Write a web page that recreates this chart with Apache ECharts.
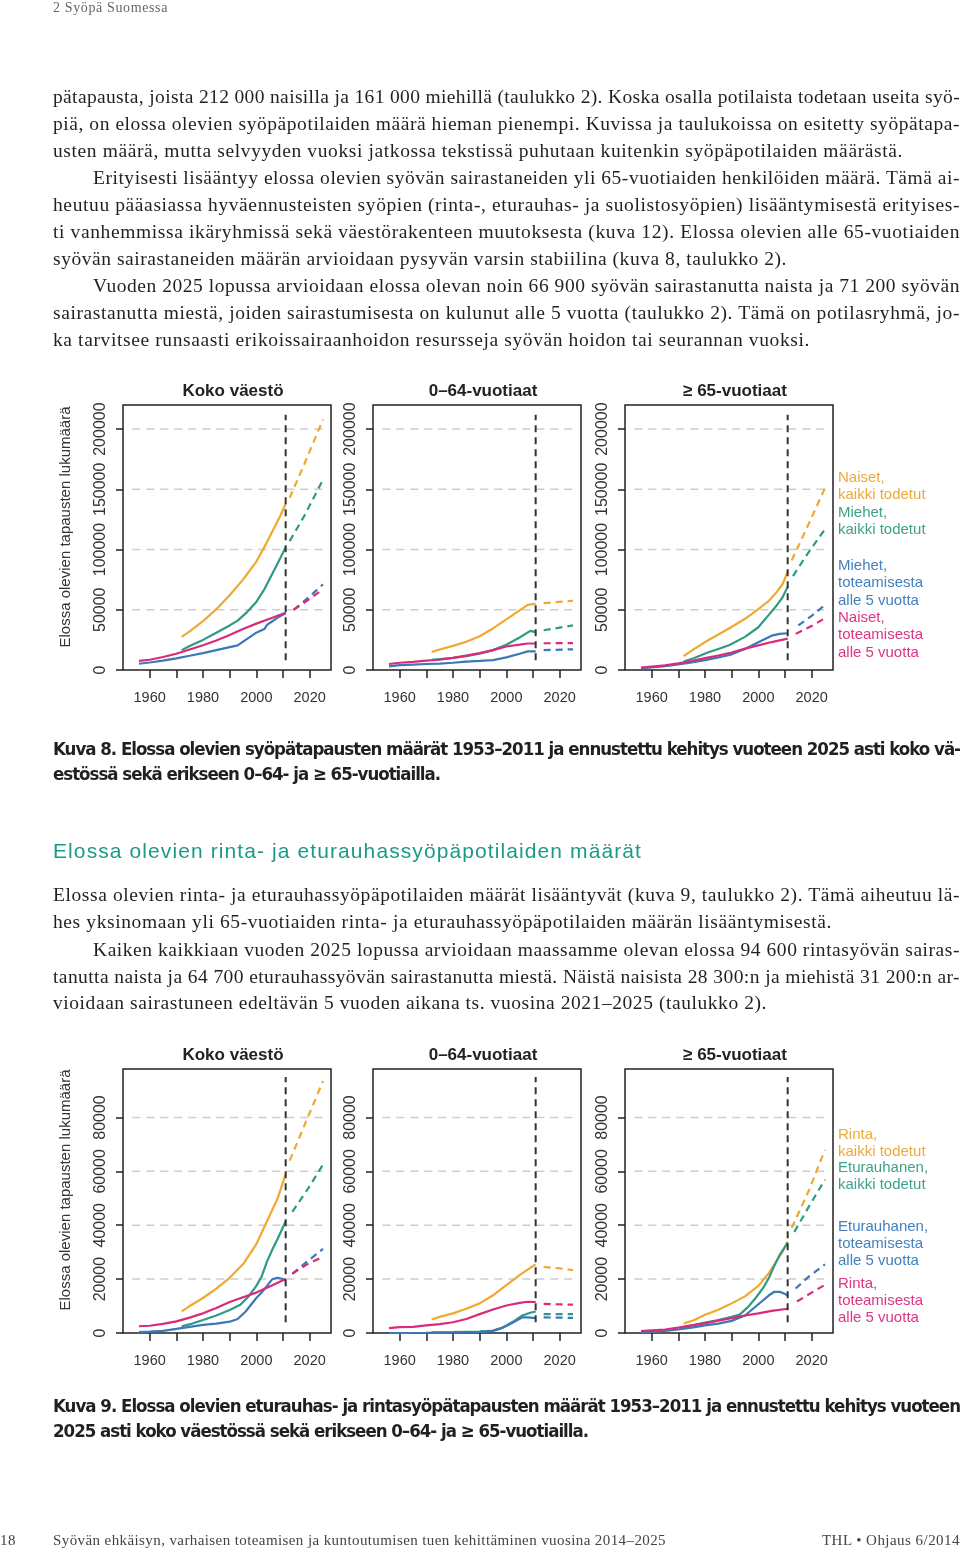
<!DOCTYPE html>
<html lang="fi"><head><meta charset="utf-8"><title>Kuvat 8 ja 9</title>
<script src="https://cdn.jsdelivr.net/npm/echarts@6.0.0/dist/echarts.min.js"></script>
<style>
html,body{margin:0;padding:0;background:#fff}
body{width:960px;height:1551px;position:relative;overflow:hidden}
#chart{position:absolute;left:0;top:0;width:960px;height:1551px;z-index:1}
.ln{position:absolute;white-space:nowrap;line-height:22px;height:22px;z-index:2}
.body{font-family:'Liberation Serif','DejaVu Serif',serif;font-size:19.5px;color:#231f20}
.cap{font-family:'Liberation Sans Narrow','DejaVu Sans Condensed',sans-serif;font-weight:bold;font-size:18.5px;color:#231f20}
.head{font-family:'Liberation Sans',sans-serif;font-size:21px;color:#1d9a86}
.foot{font-family:'Liberation Serif',serif;font-size:15px;color:#444}
</style></head><body>
<div id="chart"></div>

<div class="ln foot" data-x="53" data-y="8" data-r="168" style="color:#666;font-size:14px">2 Syöpä Suomessa</div>

<div class="ln body" data-x="53" data-y="97" data-r="960">pätapausta, joista 212 000 naisilla ja 161 000 miehillä (taulukko 2). Koska osalla potilaista todetaan useita syö-</div>
<div class="ln body" data-x="53" data-y="124" data-r="960">piä, on elossa olevien syöpäpotilaiden määrä hieman pienempi. Kuvissa ja taulukoissa on esitetty syöpätapa-</div>
<div class="ln body" data-x="53" data-y="151" data-r="903">usten määrä, mutta selvyyden vuoksi jatkossa tekstissä puhutaan kuitenkin syöpäpotilaiden määrästä.</div>
<div class="ln body" data-x="93" data-y="178" data-r="960">Erityisesti lisääntyy elossa olevien syövän sairastaneiden yli 65-vuotiaiden henkilöiden määrä. Tämä ai-</div>
<div class="ln body" data-x="53" data-y="205" data-r="960">heutuu pääasiassa hyväennusteisten syöpien (rinta-, eturauhas- ja suolistosyöpien) lisääntymisestä erityises-</div>
<div class="ln body" data-x="53" data-y="232" data-r="960">ti vanhemmissa ikäryhmissä sekä väestörakenteen muutoksesta (kuva 12). Elossa olevien alle 65-vuotiaiden</div>
<div class="ln body" data-x="53" data-y="259" data-r="787">syövän sairastaneiden määrän arvioidaan pysyvän varsin stabiilina (kuva 8, taulukko 2).</div>
<div class="ln body" data-x="93" data-y="286" data-r="960">Vuoden 2025 lopussa arvioidaan elossa olevan noin 66 900 syövän sairastanutta naista ja 71 200 syövän</div>
<div class="ln body" data-x="53" data-y="313" data-r="960">sairastanutta miestä, joiden sairastumisesta on kulunut alle 5 vuotta (taulukko 2). Tämä on potilasryhmä, jo-</div>
<div class="ln body" data-x="53" data-y="340" data-r="810">ka tarvitsee runsaasti erikoissairaanhoidon resursseja syövän hoidon tai seurannan vuoksi.</div>

<div class="ln cap" data-x="53" data-y="749" data-r="960">Kuva 8. Elossa olevien syöpätapausten määrät 1953–2011 ja ennustettu kehitys vuoteen 2025 asti koko vä-</div>
<div class="ln cap" data-x="53" data-y="774" data-r="440">estössä sekä erikseen 0–64- ja ≥ 65-vuotiailla.</div>

<div class="ln head" data-x="53" data-y="851" data-r="642">Elossa olevien rinta- ja eturauhassyöpäpotilaiden määrät</div>

<div class="ln body" data-x="53" data-y="895" data-r="960">Elossa olevien rinta- ja eturauhassyöpäpotilaiden määrät lisääntyvät (kuva 9, taulukko 2). Tämä aiheutuu lä-</div>
<div class="ln body" data-x="53" data-y="922" data-r="832">hes yksinomaan yli 65-vuotiaiden rinta- ja eturauhassyöpäpotilaiden määrän lisääntymisestä.</div>
<div class="ln body" data-x="93" data-y="950" data-r="960">Kaiken kaikkiaan vuoden 2025 lopussa arvioidaan maassamme olevan elossa 94 600 rintasyövän sairas-</div>
<div class="ln body" data-x="53" data-y="977" data-r="960">tanutta naista ja 64 700 eturauhassyövän sairastanutta miestä. Näistä naisista 28 300:n ja miehistä 31 200:n ar-</div>
<div class="ln body" data-x="53" data-y="1003" data-r="767">vioidaan sairastuneen edeltävän 5 vuoden aikana ts. vuosina 2021–2025 (taulukko 2).</div>

<div class="ln cap" data-x="53" data-y="1406" data-r="960">Kuva 9. Elossa olevien eturauhas- ja rintasyöpätapausten määrät 1953–2011 ja ennustettu kehitys vuoteen</div>
<div class="ln cap" data-x="53" data-y="1431" data-r="588">2025 asti koko väestössä sekä erikseen 0–64- ja ≥ 65-vuotiailla.</div>

<div class="ln foot" data-x="0" data-y="1540" data-r="16">18</div>
<div class="ln foot" data-x="53" data-y="1540" data-r="666">Syövän ehkäisyn, varhaisen toteamisen ja kuntoutumisen tuen kehittäminen vuosina 2014–2025</div>
<div class="ln foot" data-x="822" data-y="1540" data-r="960">THL • Ohjaus 6/2014</div>

<script>
// ---------- axis / label data ----------
const X_TICKS = [1960, 1970, 1980, 1990, 2000, 2010, 2020];
const X_LABELS = [1960, 1980, 2000, 2020];
const X_MIN = 1950, X_MAX = 2028;
const F8_Y_TICKS = [0, 50000, 100000, 150000, 200000];
const F9_Y_TICKS = [0, 20000, 40000, 60000, 80000];
const F8_Y_MAX = 220000;
const F9_Y_MAX = 98000;
const PANEL_TITLES = ['Koko väestö', '0–64-vuotiaat', '≥ 65-vuotiaat'];
const Y_NAME = 'Elossa olevien tapausten lukumäärä';
const GRID_SPAN = [1953.5, 2025.5];
const CUT_YEAR = 2011;
const F8_CUT_RANGE = [8000, 212000];
const F9_CUT_RANGE = [4000, 95000];
const F8_LEGEND = [['Naiset,', 'kaikki todetut'], ['Miehet,', 'kaikki todetut'], ['Miehet,', 'toteamisesta', 'alle 5 vuotta'], ['Naiset,', 'toteamisesta', 'alle 5 vuotta']];
const F9_LEGEND = [['Rinta,', 'kaikki todetut'], ['Eturauhanen,', 'kaikki todetut'], ['Eturauhanen,', 'toteamisesta', 'alle 5 vuotta'], ['Rinta,', 'toteamisesta', 'alle 5 vuotta']];

// ---------- Kuva 8: Koko väestö ----------
const f8Koko_naisetKaikki = [[1972,27500],[1975,32000],[1980,40500],[1985,50500],[1990,62000],[1995,75000],[2000,90000],[2003,102000],[2006,115000],[2009,128000],[2011,138000]];
const f8Koko_naisetKaikki_enn = [[2012.5,143000],[2018,171000],[2025,208000]];
const f8Koko_miehetKaikki = [[1972,16500],[1975,20000],[1980,25000],[1985,31000],[1990,37000],[1993,41000],[1996,47000],[2000,56500],[2003,67000],[2006,80000],[2009,93000],[2011,102000]];
const f8Koko_miehetKaikki_enn = [[2012.5,107000],[2018,128000],[2025,158000]];
const f8Koko_miehet5 = [[1956,5200],[1960,6200],[1965,7800],[1970,9700],[1975,11800],[1980,14000],[1985,16500],[1990,19000],[1993,20500],[1996,25000],[2000,31000],[2003,34000],[2004,37500],[2006,40500],[2008,43500],[2011,47000]];
const f8Koko_miehet5_enn = [[2014,50000],[2020,61000],[2025,71200]];
const f8Koko_naiset5 = [[1956,7500],[1960,8500],[1965,10800],[1970,13500],[1975,17000],[1980,20500],[1985,24500],[1990,29000],[1995,34000],[2000,38500],[2005,42500],[2011,47500]];
const f8Koko_naiset5_enn = [[2014,50000],[2020,59000],[2025,66900]];

// ---------- Kuva 8: 0–64 ----------
const f8Nuor_naisetKaikki = [[1972,15000],[1975,17000],[1980,20000],[1985,23500],[1990,28000],[1995,34500],[2000,42000],[2005,49500],[2008,54000],[2011,55000]];
const f8Nuor_naisetKaikki_enn = [[2014,55500],[2025,57500]];
const f8Nuor_miehetKaikki = [[1972,8500],[1980,10000],[1985,11500],[1990,13500],[1995,16500],[2000,21000],[2005,27000],[2009,32500],[2011,31500]];
const f8Nuor_miehetKaikki_enn = [[2014,33000],[2025,37000]];
const f8Nuor_miehet5 = [[1956,3000],[1960,4000],[1965,4500],[1970,5000],[1975,5300],[1980,6000],[1985,7000],[1990,7500],[1995,8200],[2000,10500],[2005,13500],[2008,15500],[2011,15500]];
const f8Nuor_miehet5_enn = [[2014,16500],[2025,17200]];
const f8Nuor_naiset5 = [[1956,5000],[1960,6000],[1965,6800],[1970,7800],[1975,8500],[1980,10000],[1985,12000],[1990,14000],[1995,16500],[2000,19500],[2005,21000],[2008,22000],[2011,22000]];
const f8Nuor_naiset5_enn = [[2014,22200],[2025,22300]];

// ---------- Kuva 8: ≥ 65 ----------
const f8Vanh_naisetKaikki = [[1972,11500],[1976,17500],[1981,24500],[1985,29500],[1989,34500],[1995,42500],[2000,50500],[2004,57500],[2007,65000],[2009,71000],[2010,76000],[2011,82000]];
const f8Vanh_naisetKaikki_enn = [[2012.5,91000],[2018,117000],[2025,151000]];
const f8Vanh_miehetKaikki = [[1972,7000],[1976,10000],[1981,14500],[1985,17500],[1989,20500],[1995,27500],[2000,35500],[2004,46000],[2007,54000],[2009,60000],[2011,69000]];
const f8Vanh_miehetKaikki_enn = [[2013,78000],[2018,95000],[2025,117000]];
const f8Vanh_miehet5 = [[1956,1500],[1960,2200],[1965,3200],[1970,4700],[1975,6300],[1980,8200],[1985,10500],[1990,13000],[1995,17500],[2000,23000],[2005,28500],[2008,30000],[2011,30500]];
const f8Vanh_miehet5_enn = [[2015,37000],[2020,45000],[2025,54000]];
const f8Vanh_naiset5 = [[1956,2000],[1960,2800],[1965,3800],[1970,5500],[1975,7500],[1980,9800],[1985,12000],[1990,14500],[1995,17800],[2000,20500],[2005,23200],[2011,26000]];
const f8Vanh_naiset5_enn = [[2014,30000],[2020,36500],[2025,43000]];

// ---------- Kuva 9: Koko väestö ----------
const f9Koko_rintaKaikki = [[1972,8000],[1975,10000],[1980,13000],[1985,16500],[1990,20500],[1995,25500],[2000,33000],[2004,41500],[2008,50000],[2011,59000]];
const f9Koko_rintaKaikki_enn = [[2012.5,64000],[2018,77000],[2025,93500]];
const f9Koko_eturKaikki = [[1972,2500],[1976,3500],[1980,4800],[1985,6500],[1990,8500],[1994,10500],[1997,13500],[2000,17500],[2002,21000],[2004,26500],[2006,31000],[2008,35000],[2011,41500]];
const f9Koko_eturKaikki_enn = [[2013.5,45000],[2019,53000],[2025,62500]];
const f9Koko_etur5 = [[1956,300],[1960,500],[1965,800],[1970,1500],[1975,2300],[1980,3000],[1985,3500],[1990,4200],[1993,5200],[1996,8000],[1998,10500],[2000,13000],[2002,15000],[2004,17500],[2006,20000],[2008,20500],[2010,20000],[2011,19800]];
const f9Koko_etur5_enn = [[2013.5,22000],[2019,26500],[2025,31200]];
const f9Koko_rinta5 = [[1956,2500],[1960,2700],[1965,3400],[1970,4300],[1975,5700],[1980,7300],[1985,9300],[1990,11500],[1995,13300],[2000,15000],[2005,17300],[2011,20000]];
const f9Koko_rinta5_enn = [[2013.5,22000],[2019,25500],[2025,28300]];

// ---------- Kuva 9: 0–64 ----------
const f9Nuor_rintaKaikki = [[1972,5000],[1975,6000],[1980,7300],[1985,9000],[1990,11000],[1995,14000],[2000,17800],[2005,21500],[2008,23500],[2011,25500]];
const f9Nuor_rintaKaikki_enn = [[2014,24500],[2020,24000],[2025,23300]];
const f9Nuor_eturKaikki = [[1972,200],[1980,300],[1990,500],[1995,900],[1998,1800],[2000,2800],[2003,4500],[2006,6500],[2009,7500],[2011,8000]];
const f9Nuor_eturKaikki_enn = [[2014,7000],[2025,7000]];
const f9Nuor_etur5 = [[1956,0],[1970,100],[1980,200],[1990,400],[1995,800],[1998,1700],[2000,2600],[2003,4200],[2006,5800],[2008,5800],[2011,5500]];
const f9Nuor_etur5_enn = [[2014,5800],[2025,5600]];
const f9Nuor_rinta5 = [[1956,1800],[1960,2200],[1965,2300],[1970,2800],[1975,3300],[1980,4000],[1985,5200],[1990,7000],[1995,8700],[2000,10200],[2005,11200],[2008,11600],[2011,11500]];
const f9Nuor_rinta5_enn = [[2014,10800],[2025,10500]];

// ---------- Kuva 9: ≥ 65 ----------
const f9Vanh_rintaKaikki = [[1972,3500],[1976,4800],[1980,6800],[1985,8600],[1990,11000],[1995,13600],[2000,17500],[2004,22300],[2007,27000],[2009,30000],[2011,34000]];
const f9Vanh_rintaKaikki_enn = [[2012.5,39000],[2019,53000],[2025,68000]];
const f9Vanh_eturKaikki = [[1972,2200],[1976,3000],[1980,3900],[1985,4800],[1990,6000],[1993,6800],[1996,9500],[1999,13000],[2002,17000],[2004,20500],[2006,25000],[2008,29000],[2011,33500]];
const f9Vanh_eturKaikki_enn = [[2013.5,37500],[2019,47000],[2025,57000]];
const f9Vanh_etur5 = [[1956,200],[1960,400],[1965,800],[1970,1300],[1975,2000],[1980,2800],[1985,3500],[1990,4500],[1995,6500],[1998,9000],[2001,11500],[2004,14000],[2006,15300],[2008,15300],[2010,14500],[2011,14000]];
const f9Vanh_etur5_enn = [[2014,16500],[2019,21000],[2025,25500]];
const f9Vanh_rinta5 = [[1956,700],[1960,1000],[1965,1300],[1970,2000],[1975,2800],[1980,3600],[1985,4600],[1990,5500],[1995,6500],[2000,7300],[2005,8200],[2011,9000]];
const f9Vanh_rinta5_enn = [[2014.5,11700],[2020,15000],[2025,17900]];

// ---------- styling ----------
const COLORS = ['#F0A830', '#2E9A86', '#3A78B8', '#D92B7A'];
const LEGEND_COLORS = ['#EDAA3C', '#3FA08C', '#4480BE', '#DC3584'];
const SANS = "'Liberation Sans', Arial, sans-serif";

const FIGS = [
  { top: 405, height: 265, yMax: F8_Y_MAX, yTicks: F8_Y_TICKS, cut: F8_CUT_RANGE,
    titleY: 391, yNameY: 527, legend: F8_LEGEND, legendY: [478, 513, 566, 618], lineH: 17.3,
    panels: [
      [[f8Koko_naisetKaikki, f8Koko_naisetKaikki_enn], [f8Koko_miehetKaikki, f8Koko_miehetKaikki_enn], [f8Koko_miehet5, f8Koko_miehet5_enn], [f8Koko_naiset5, f8Koko_naiset5_enn]],
      [[f8Nuor_naisetKaikki, f8Nuor_naisetKaikki_enn], [f8Nuor_miehetKaikki, f8Nuor_miehetKaikki_enn], [f8Nuor_miehet5, f8Nuor_miehet5_enn], [f8Nuor_naiset5, f8Nuor_naiset5_enn]],
      [[f8Vanh_naisetKaikki, f8Vanh_naisetKaikki_enn], [f8Vanh_miehetKaikki, f8Vanh_miehetKaikki_enn], [f8Vanh_miehet5, f8Vanh_miehet5_enn], [f8Vanh_naiset5, f8Vanh_naiset5_enn]]
    ] },
  { top: 1069, height: 264, yMax: F9_Y_MAX, yTicks: F9_Y_TICKS, cut: F9_CUT_RANGE,
    titleY: 1055, yNameY: 1190, legend: F9_LEGEND, legendY: [1135, 1168, 1227, 1284], lineH: 16.8,
    panels: [
      [[f9Koko_rintaKaikki, f9Koko_rintaKaikki_enn], [f9Koko_eturKaikki, f9Koko_eturKaikki_enn], [f9Koko_etur5, f9Koko_etur5_enn], [f9Koko_rinta5, f9Koko_rinta5_enn]],
      [[f9Nuor_rintaKaikki, f9Nuor_rintaKaikki_enn], [f9Nuor_eturKaikki, f9Nuor_eturKaikki_enn], [f9Nuor_etur5, f9Nuor_etur5_enn], [f9Nuor_rinta5, f9Nuor_rinta5_enn]],
      [[f9Vanh_rintaKaikki, f9Vanh_rintaKaikki_enn], [f9Vanh_eturKaikki, f9Vanh_eturKaikki_enn], [f9Vanh_etur5, f9Vanh_etur5_enn], [f9Vanh_rinta5, f9Vanh_rinta5_enn]]
    ] }
];
const PANEL_LEFT = [123, 373, 625];
const PANEL_W = 208;

const grids = [], xAxes = [], yAxes = [], series = [], graphics = [];
FIGS.forEach((fig, fi) => {
  fig.panels.forEach((panel, pi) => {
    const gi = fi * 3 + pi;
    grids.push({ left: PANEL_LEFT[pi], top: fig.top, width: PANEL_W, height: fig.height,
      show: true, borderColor: '#222', borderWidth: 1.5, backgroundColor: 'transparent', containLabel: false });
    xAxes.push({ type: 'value', gridIndex: gi, min: X_MIN, max: X_MAX,
      axisLine: { show: false }, splitLine: { show: false },
      axisTick: { show: true, customValues: X_TICKS, length: 8, inside: false, lineStyle: { color: '#222', width: 1.5 } },
      axisLabel: { customValues: X_LABELS, formatter: v => String(v), fontSize: 14.5, fontFamily: SANS, color: '#333', margin: 20 } });
    yAxes.push({ type: 'value', gridIndex: gi, min: 0, max: fig.yMax,
      axisLine: { show: false }, splitLine: { show: false },
      axisTick: { show: true, customValues: fig.yTicks, length: 7, lineStyle: { color: '#222', width: 1.5 } },
      axisLabel: { customValues: fig.yTicks, formatter: v => String(v), rotate: 90, align: 'center', verticalAlign: 'bottom',
        margin: 14, fontSize: 16, fontFamily: SANS, color: '#333' } });
    // dashed grid lines
    fig.yTicks.filter(t => t > 0).forEach(t => {
      series.push({ type: 'line', xAxisIndex: gi, yAxisIndex: gi, silent: true, symbol: 'none', z: 1,
        data: [[GRID_SPAN[0], t], [GRID_SPAN[1], t]],
        lineStyle: { color: '#cdcdcd', width: 1.5, type: [8, 6] } });
    });
    // data lines
    panel.forEach((pair, si) => {
      series.push({ type: 'line', xAxisIndex: gi, yAxisIndex: gi, silent: true, symbol: 'none', z: 3 + si,
        data: pair[0], lineStyle: { color: COLORS[si], width: 2.2 } });
      series.push({ type: 'line', xAxisIndex: gi, yAxisIndex: gi, silent: true, symbol: 'none', z: 3 + si,
        data: pair[1], lineStyle: { color: COLORS[si], width: 2.2, type: [7, 5] } });
    });
    // vertical cut line
    series.push({ type: 'line', xAxisIndex: gi, yAxisIndex: gi, silent: true, symbol: 'none', z: 10,
      data: [[CUT_YEAR, fig.cut[0]], [CUT_YEAR, fig.cut[1]]],
      lineStyle: { color: '#333', width: 2, type: [7, 5] } });
    // title
    graphics.push({ type: 'text', x: PANEL_LEFT[pi] + PANEL_W / 2 + 6, y: fig.titleY,
      style: { text: PANEL_TITLES[pi], font: 'bold 17px ' + SANS, fill: '#222', align: 'center', verticalAlign: 'middle' } });
  });
  // y axis name
  graphics.push({ type: 'text', x: 66, y: fig.yNameY, rotation: Math.PI / 2,
    style: { text: Y_NAME, font: '15px ' + SANS, fill: '#333', align: 'center', verticalAlign: 'middle' } });
  // legend text
  fig.legend.forEach((lines, li) => {
    lines.forEach((t, k) => {
      graphics.push({ type: 'text', x: 838, y: fig.legendY[li] + k * fig.lineH,
        style: { text: t, font: '15px ' + SANS, fill: LEGEND_COLORS[li], align: 'left', verticalAlign: 'middle' } });
    });
  });
});

const chart = echarts.init(document.getElementById('chart'));
chart.setOption({
  animation: false,
  backgroundColor: '#fff',
  grid: grids, xAxis: xAxes, yAxis: yAxes, series: series,
  graphic: { elements: graphics }
});

// ---------- text line fitting ----------
function layoutText() {
  document.querySelectorAll('.ln').forEach(el => {
    const x = +el.dataset.x, y = +el.dataset.y, r = +el.dataset.r;
    el.style.left = x + 'px';
    el.style.top = (y - 11) + 'px';
    el.style.letterSpacing = '0px';
    const w = el.getBoundingClientRect().width;
    const n = el.textContent.length;
    el.style.letterSpacing = ((r - x - w) / n) + 'px';
  });
}
layoutText();
if (document.fonts && document.fonts.ready) document.fonts.ready.then(layoutText);
</script>
</body></html>
